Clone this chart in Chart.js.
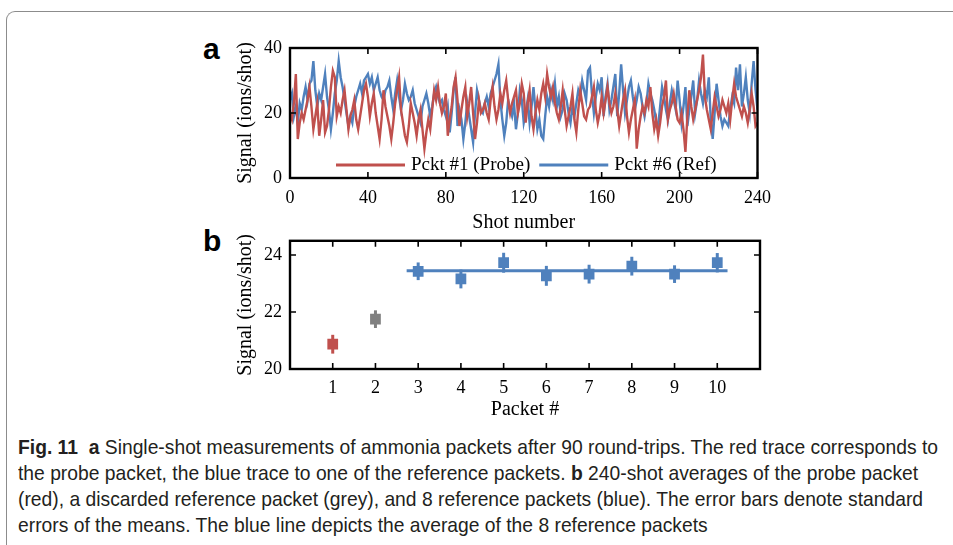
<!DOCTYPE html>
<html>
<head>
<meta charset="utf-8">
<script src="https://cdn.jsdelivr.net/npm/chart.js@4.4.0/dist/chart.umd.min.js"></script>
<style>
  html, body { margin: 0; padding: 0; background: #fff; }
  body { width: 953px; height: 545px; overflow: hidden; position: relative; }
  .frame {
    position: absolute; left: 6px; top: 11px; width: 1000px; height: 600px;
    border-top: 1px solid #8c8c8c; border-left: 1px solid #8c8c8c;
    border-top-left-radius: 9px;
  }
  .tag { position: absolute; font: bold 30px "Liberation Sans", Arial, sans-serif; color: #000; line-height: 1; }
  #wrapA { position: absolute; left: 200px; top: 28px; width: 580px; height: 212px; }
  #wrapB { position: absolute; left: 200px; top: 222px; width: 580px; height: 200px; }
  .caption {
    position: absolute; left: 18px; top: 434px; color: #231f20;
    font: 21px "Liberation Sans Narrow", "Liberation Sans", sans-serif;
  }
  .caption div { white-space: nowrap; height: 26px; line-height: 26px; transform-origin: left center; }
</style>
</head>
<body>
<div class="frame"></div>
<div class="tag" style="left:203px;top:34px;">a</div>
<div class="tag" style="left:203px;top:226px;">b</div>
<div id="wrapA"><canvas id="chartA"></canvas></div>
<div id="wrapB"><canvas id="chartB"></canvas></div>
<div class="caption" id="caption">
  <div><b>Fig. 11</b>&nbsp; <b>a</b> Single-shot measurements of ammonia packets after 90 round-trips. The red trace corresponds to</div>
  <div>the probe packet, the blue trace to one of the reference packets. <b>b</b> 240-shot averages of the probe packet</div>
  <div>(red), a discarded reference packet (grey), and 8 reference packets (blue). The error bars denote standard</div>
  <div>errors of the means. The blue line depicts the average of the 8 reference packets</div>
</div>
<script>
const RED = "#c0504d";
const BLUE = "#4f81bd";
const GREY = "#808080";
const SERIF = "'Liberation Serif', 'DejaVu Serif', serif";

// panel a: single-shot signals, shots 0..240
const probeSignal = [
  20, 18, 23, 32, 12, 17, 20, 18, 21, 24, 28, 22, 15, 19, 23, 13, 18, 24, 14, 16,
  21, 28, 33, 31, 19, 22, 20, 24, 27, 21, 15, 19, 21, 24, 18, 15, 19, 23, 27, 29,
  25, 19, 23, 26, 20, 16, 12, 18, 27, 22, 19, 16, 12, 17, 23, 27, 31, 21, 17, 13,
  11, 16, 23, 20, 17, 13, 18, 21, 15, 9, 14, 18, 15, 21, 27, 24, 28, 23, 20, 22,
  26, 13, 18, 22, 28, 31, 24, 16, 21, 25, 28, 19, 23, 28, 20, 12, 17, 24, 20, 21,
  23, 20, 18, 24, 28, 22, 18, 21, 26, 23, 27, 30, 24, 20, 23, 25, 27, 20, 23, 29,
  26, 17, 23, 27, 19, 15, 20, 24, 21, 26, 29, 25, 32, 28, 25, 28, 23, 20, 18, 22,
  27, 21, 16, 19, 22, 26, 18, 14, 21, 27, 23, 19, 18, 21, 22, 25, 28, 21, 17, 20,
  25, 20, 24, 28, 23, 20, 22, 26, 21, 16, 20, 24, 27, 19, 14, 18, 21, 24, 9, 15,
  19, 22, 20, 24, 22, 28, 20, 15, 18, 13, 17, 22, 25, 30, 18, 21, 23, 26, 22, 18,
  17, 20, 15, 8, 19, 27, 22, 18, 21, 24, 27, 31, 38, 25, 21, 18, 15, 20, 25, 22,
  19, 21, 24, 22, 20, 23, 18, 24, 29, 25, 23, 21, 19, 22, 20, 17, 21, 26, 22, 16,
  17
];
const refSignal = [
  24, 26, 19, 22, 17, 23, 21, 25, 28, 24, 29, 30, 36, 27, 22, 26, 24, 28, 32, 25,
  21, 15, 20, 26, 30, 36, 31, 28, 24, 20, 16, 19, 17, 22, 25, 27, 29, 26, 30, 31,
  32, 29, 31, 27, 29, 31, 27, 25, 24, 27, 28, 30, 25, 21, 26, 30, 25, 21, 24, 29,
  26, 24, 25, 27, 23, 21, 19, 17, 22, 24, 26, 23, 19, 22, 26, 28, 25, 23, 24, 21,
  19, 22, 14, 20, 27, 31, 16, 21, 18, 12, 17, 23, 19, 15, 11, 20, 27, 24, 21, 20,
  23, 25, 22, 26, 28, 30, 32, 35, 24, 18, 13, 17, 24, 21, 19, 23, 15, 20, 27, 24,
  17, 20, 24, 17, 22, 28, 21, 15, 18, 13, 12, 19, 25, 22, 27, 24, 29, 22, 25, 19,
  21, 26, 24, 20, 17, 22, 19, 23, 27, 25, 30, 27, 24, 33, 34, 26, 20, 25, 29, 27,
  31, 19, 25, 29, 21, 24, 28, 32, 19, 26, 35, 27, 20, 24, 28, 30, 25, 21, 24, 28,
  26, 22, 19, 23, 29, 26, 24, 21, 17, 16, 22, 28, 25, 21, 18, 23, 27, 24, 21, 30,
  24, 17, 22, 28, 16, 21, 25, 30, 20, 24, 30, 26, 23, 27, 25, 31, 18, 12, 20, 29,
  24, 19, 16, 18, 17, 16, 21, 25, 23, 34, 27, 35, 22, 26, 31, 24, 20, 29, 36, 27,
  21
];
const shotNumbers = probeSignal.map((_, i) => i);
const shotTicks = [0, 40, 80, 120, 160, 200, 240];
const signalTicks = [0, 20, 40];

// panel b: 240-shot averages per packet
const packetNumbers = [1, 2, 3, 4, 5, 6, 7, 8, 9, 10];
const packetMeans = [20.87, 21.75, 23.43, 23.16, 23.73, 23.27, 23.33, 23.61, 23.33, 23.73];
const packetErrors = [0.33, 0.31, 0.31, 0.33, 0.35, 0.35, 0.33, 0.33, 0.31, 0.34];
const packetColors = [RED, GREY, BLUE, BLUE, BLUE, BLUE, BLUE, BLUE, BLUE, BLUE];
const refAverage = 23.45;
const refLineX = [2.73, 10.24];
const packetTicks = [1, 2, 3, 4, 5, 6, 7, 8, 9, 10];
const meanTicks = [20, 22, 24];

// box round the plot with inward tick marks on all four sides
const boxTicks = {
  id: "boxTicks",
  afterDatasetsDraw(chart) {
    const { ctx, chartArea: a, scales } = chart;
    const len = 6;
    ctx.save();
    ctx.strokeStyle = "#000";
    ctx.lineWidth = 1.6;
    ctx.beginPath();
    scales.x.ticks.forEach((t) => {
      const px = scales.x.getPixelForValue(t.value);
      ctx.moveTo(px, a.bottom); ctx.lineTo(px, a.bottom - len);
      ctx.moveTo(px, a.top); ctx.lineTo(px, a.top + len);
    });
    scales.y.ticks.forEach((t) => {
      const py = scales.y.getPixelForValue(t.value);
      ctx.moveTo(a.left, py); ctx.lineTo(a.left + len, py);
      ctx.moveTo(a.right, py); ctx.lineTo(a.right - len, py);
    });
    ctx.stroke();
    ctx.lineWidth = 2.4;
    ctx.strokeRect(a.left, a.top, a.right - a.left, a.bottom - a.top);
    ctx.restore();
  },
};

// legend drawn inside the plot, along its bottom
const innerLegend = {
  id: "innerLegend",
  afterDatasetsDraw(chart, args, opts) {
    if (!opts.show) return;
    const { ctx, chartArea: a } = chart;
    const y = a.bottom - 13;
    let x = a.left + 46;
    ctx.save();
    ctx.font = "19px " + SERIF;
    ctx.textBaseline = "middle";
    chart.data.datasets.forEach((ds) => {
      ctx.strokeStyle = ds.borderColor;
      ctx.lineWidth = 3;
      ctx.beginPath();
      ctx.moveTo(x, y); ctx.lineTo(x + 69, y);
      ctx.stroke();
      x += 75;
      ctx.fillStyle = "#000";
      ctx.fillText(ds.label, x, y);
      x += ctx.measureText(ds.label).width + 9;
    });
    ctx.restore();
  },
};

// vertical error bars under the square markers
const errorBars = {
  id: "errorBars",
  beforeDatasetsDraw(chart) {
    const { ctx, scales: { x, y } } = chart;
    ctx.save();
    ctx.lineWidth = 3;
    packetNumbers.forEach((n, i) => {
      const px = x.getPixelForValue(n);
      ctx.strokeStyle = packetColors[i];
      ctx.beginPath();
      ctx.moveTo(px, y.getPixelForValue(packetMeans[i] - packetErrors[i]));
      ctx.lineTo(px, y.getPixelForValue(packetMeans[i] + packetErrors[i]));
      ctx.stroke();
    });
    ctx.restore();
  },
};

function tickFont() { return { family: SERIF, size: 18 }; }
function titleFont() { return { family: SERIF, size: 20 }; }

function initChartA() {
  const ctx = document.getElementById("chartA");
  new Chart(ctx, {
    type: "line",
    data: {
      datasets: [
        {
          label: "Pckt #1 (Probe)",
          data: probeSignal.map((v, i) => ({ x: shotNumbers[i], y: v })),
          borderColor: RED,
          borderWidth: 2.4,
          pointRadius: 0,
          tension: 0,
        },
        {
          label: "Pckt #6 (Ref)",
          data: refSignal.map((v, i) => ({ x: shotNumbers[i], y: v })),
          borderColor: BLUE,
          borderWidth: 2.4,
          pointRadius: 0,
          tension: 0,
        },
      ],
    },
    options: {
      responsive: true,
      maintainAspectRatio: false,
      animation: false,
      layout: { padding: { top: 20, right: 20, left: 0, bottom: 0 } },
      plugins: {
        legend: { display: false },
        tooltip: { enabled: false },
        innerLegend: { show: true },
      },
      scales: {
        x: {
          type: "linear",
          min: 0,
          max: 240,
          afterBuildTicks: (s) => { s.ticks = shotTicks.map((v) => ({ value: v })); },
          afterFit: (s) => { s.height = 62; },
          ticks: { font: tickFont(), color: "#000", padding: 9, maxRotation: 0 },
          grid: { display: false, drawTicks: false },
          border: { display: false },
          title: { display: true, text: "Shot number", font: titleFont(), color: "#000", padding: { top: 0, bottom: 5 } },
        },
        y: {
          min: 0,
          max: 40,
          afterBuildTicks: (s) => { s.ticks = signalTicks.map((v) => ({ value: v })); },
          afterFit: (s) => { s.width = 90; },
          ticks: { font: tickFont(), color: "#000", padding: 8 },
          grid: { display: false, drawTicks: false },
          border: { display: false },
          title: { display: true, text: "Signal (ions/shot)", font: titleFont(), color: "#000", padding: { top: 34, bottom: 0 } },
        },
      },
    },
    plugins: [boxTicks, innerLegend],
  });
}

function initChartB() {
  const ctx = document.getElementById("chartB");
  new Chart(ctx, {
    type: "scatter",
    data: {
      datasets: [
        {
          label: "Packets",
          data: packetNumbers.map((n, i) => ({ x: n, y: packetMeans[i] })),
          backgroundColor: packetColors,
          pointStyle: "rect",
          pointRadius: 7.6,
          pointBorderWidth: 0,
          borderWidth: 0,
        },
        {
          label: "Reference average",
          type: "line",
          data: refLineX.map((x) => ({ x: x, y: refAverage })),
          borderColor: BLUE,
          borderWidth: 3,
          pointRadius: 0,
        },
      ],
    },
    options: {
      responsive: true,
      maintainAspectRatio: false,
      animation: false,
      layout: { padding: { top: 15, right: 20, left: 0, bottom: 0 } },
      plugins: {
        legend: { display: false },
        tooltip: { enabled: false },
      },
      scales: {
        x: {
          type: "linear",
          min: 0,
          max: 11,
          afterBuildTicks: (s) => { s.ticks = packetTicks.map((v) => ({ value: v })); },
          afterFit: (s) => { s.height = 53; },
          ticks: { font: tickFont(), color: "#000", padding: 8, maxRotation: 0 },
          grid: { display: false, drawTicks: false },
          border: { display: false },
          title: { display: true, text: "Packet #", font: titleFont(), color: "#000", padding: { top: 0, bottom: 0 } },
        },
        y: {
          min: 20,
          max: 24.5,
          afterBuildTicks: (s) => { s.ticks = meanTicks.map((v) => ({ value: v })); },
          afterFit: (s) => { s.width = 90; },
          ticks: { font: tickFont(), color: "#000", padding: 8 },
          grid: { display: false, drawTicks: false },
          border: { display: false },
          title: { display: true, text: "Signal (ions/shot)", font: titleFont(), color: "#000", padding: { top: 34, bottom: 0 } },
        },
      },
    },
    plugins: [boxTicks, errorBars],
  });
}

function fitCaption() {
  const lines = document.querySelectorAll("#caption div");
  const first = lines[0];
  first.style.display = "inline-block";
  const scale = 920 / first.getBoundingClientRect().width;
  first.style.display = "";
  lines.forEach((l) => { l.style.transform = "scaleX(" + scale + ")"; });
}

document.addEventListener("DOMContentLoaded", function () {
  fitCaption();
  initChartA();
  initChartB();
});
</script>
</body>
</html>
